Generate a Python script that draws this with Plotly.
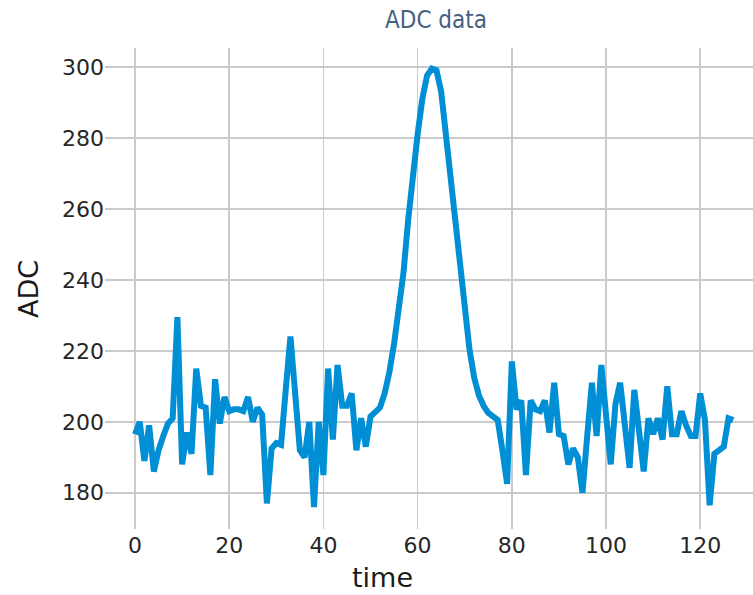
import plotly.graph_objects as go

time = list(range(128))
adc = [
    196.5, 200, 189, 199, 186, 192, 196, 199.5, 201, 229.5,
    188, 197, 191, 215, 204.5, 204, 185, 212, 199.5, 207,
    203, 203.5, 203.5, 203, 207, 200, 204, 202, 177, 192.5,
    194, 193.5, 209, 224, 208, 192, 190, 200, 176, 200,
    185, 215, 195, 216, 204.5, 204.5, 208, 192, 201, 193,
    201.5, 202.5, 204, 208, 214, 222, 232, 242, 257, 270,
    281, 291, 297.5, 299.5, 299, 293, 281, 268, 255, 242,
    230, 220.5, 212.5, 207.5, 204.5, 202.5, 201.5, 200.5, 192, 182.5,
    217, 203.5, 206, 185, 206, 203.5, 203, 206, 197, 211,
    196.5, 196, 188, 192.5, 190, 180, 196, 211, 196, 216,
    202, 188, 205, 211, 199, 187, 209, 197, 186, 201,
    196.5, 201, 195, 210, 196.5, 196.5, 203, 199, 196, 196,
    208, 200.5, 176.5, 191, 192, 193, 201, 200.5,
]
x_ticks = [0, 20, 40, 60, 80, 100, 120]
y_ticks = [180, 200, 220, 240, 260, 280, 300]

W, H = 753, 595
ML, MR, MT, MB = 105, 0, 48, 66
fig = go.Figure()
fig.add_trace(go.Scatter(
    x=time, y=adc, mode="lines",
    line=dict(color="#008fd5", width=6),
    hoverinfo="skip", showlegend=False,
))

tick_font = dict(family="DejaVu Sans", size=22, color="#262626")
plot_w = W - ML - MR
plot_h = H - MT - MB
fig.update_layout(
    width=W, height=H,
    margin=dict(l=ML, r=MR, t=MT, b=MB),
    paper_bgcolor="white", plot_bgcolor="white",
    title=dict(
        text="ADC data",
        x=436 / W, xref="container", xanchor="center",
        y=1 - 20 / H, yref="container", yanchor="middle",
        font=dict(family="Liberation Sans Narrow, DejaVu Sans Condensed, Roboto", size=24, color="#46617f"),
    ),
    xaxis=dict(
        range=[-6.37, 131.2], tickvals=x_ticks, ticktext=[str(v) for v in x_ticks],
        showgrid=True, gridcolor="#cbcbcb", gridwidth=1.6,
        zeroline=False, showline=False, ticks="",
        tickfont=tick_font, ticklabelstandoff=1,
    ),
    yaxis=dict(
        range=[169.8, 305.3], tickvals=y_ticks, ticktext=[str(v) for v in y_ticks],
        showgrid=True, gridcolor="#cbcbcb", gridwidth=1.6,
        zeroline=False, showline=False, ticks="",
        tickfont=tick_font, ticklabelstandoff=0,
    ),
    annotations=[
        dict(text="time", x=(382 - ML) / plot_w, y=(H - MB - 577) / plot_h,
             xref="paper", yref="paper",
             showarrow=False, xanchor="center", yanchor="middle",
             font=dict(family="DejaVu Sans", size=27, color="#1a1a1a")),
        dict(text="ADC", x=(28 - ML) / plot_w, y=(H - MB - 289) / plot_h,
             xref="paper", yref="paper",
             showarrow=False, xanchor="center", yanchor="middle", textangle=-90,
             font=dict(family="DejaVu Sans", size=27, color="#1a1a1a")),
    ],
)

fig.write_html(
    "out.html",
    config={"displayModeBar": False, "staticPlot": True},
    post_script="document.body.style.margin='0px';document.body.style.overflow='hidden';",
)
